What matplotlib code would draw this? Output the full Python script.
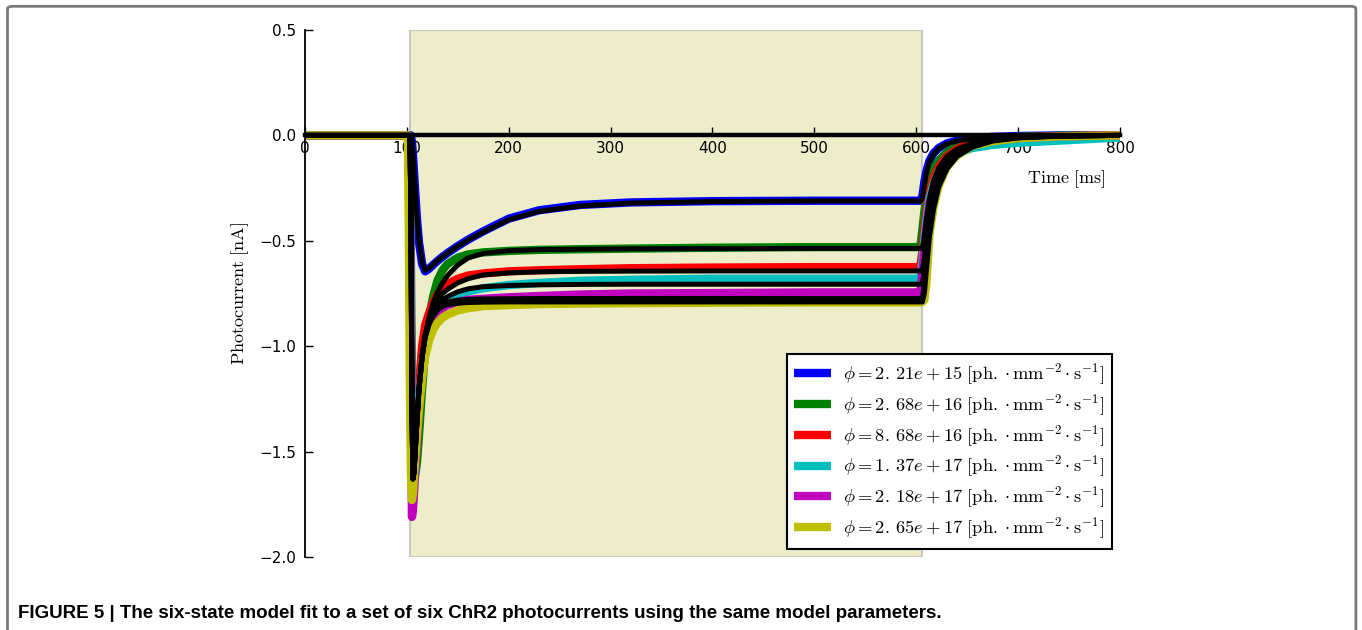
import matplotlib
matplotlib.use("Agg")
import matplotlib.pyplot as plt
from matplotlib.patches import FancyBboxPatch

plt.rcParams["mathtext.fontset"] = "cm"

# Sample times [ms] shared by every trace
t_ms = [0, 101, 102, 103, 104, 105, 106, 107, 108, 110, 112, 115, 118, 122, 126,
        130, 135, 140, 150, 160, 175, 200, 230, 270, 320, 400, 500,
        604, 606, 608, 610, 613, 617, 622, 630, 640, 655, 675, 700, 740, 800]

# Recorded photocurrents [nA]
rec_221e15 = [0, 0, 0, 0, 0, -0.03, -0.09, -0.17, -0.25, -0.40, -0.51, -0.61, -0.645, -0.632, -0.613,
              -0.596, -0.576, -0.558, -0.525, -0.495, -0.455, -0.395, -0.355, -0.330, -0.318, -0.312, -0.310,
              -0.310, -0.290, -0.220, -0.170, -0.120, -0.085, -0.060, -0.038, -0.025, -0.014, -0.007, -0.003, 0, 0]
rec_268e16 = [0, 0, 0, -0.10, -0.60, -1.20, -1.50, -1.60, -1.62, -1.55, -1.42, -1.20, -1.02, -0.86, -0.76,
              -0.69, -0.64, -0.61, -0.58, -0.565, -0.555, -0.548, -0.543, -0.540, -0.537, -0.533, -0.530,
              -0.530, -0.450, -0.360, -0.290, -0.220, -0.160, -0.120, -0.080, -0.050, -0.028, -0.014, -0.007, -0.002, 0]
rec_868e16 = [0, 0, 0, -0.20, -0.90, -1.50, -1.68, -1.65, -1.55, -1.35, -1.18, -1.00, -0.90, -0.84, -0.79,
              -0.755, -0.725, -0.705, -0.680, -0.665, -0.655, -0.645, -0.640, -0.635, -0.630, -0.627, -0.625,
              -0.625, -0.550, -0.440, -0.360, -0.270, -0.200, -0.150, -0.100, -0.065, -0.035, -0.018, -0.010, -0.004, 0]
rec_137e17 = [0, 0, 0, -0.20, -0.90, -1.50, -1.70, -1.68, -1.60, -1.42, -1.27, -1.10, -1.00, -0.93, -0.87,
              -0.83, -0.80, -0.78, -0.755, -0.740, -0.725, -0.710, -0.700, -0.690, -0.685, -0.680, -0.680,
              -0.680, -0.600, -0.490, -0.400, -0.300, -0.230, -0.170, -0.120, -0.085, -0.060, -0.045, -0.035, -0.025, -0.010]
rec_218e17 = [0, 0, 0, -0.30, -1.20, -1.81, -1.78, -1.70, -1.60, -1.45, -1.30, -1.12, -1.00, -0.92, -0.87,
              -0.845, -0.82, -0.805, -0.790, -0.780, -0.775, -0.768, -0.762, -0.755, -0.750, -0.748, -0.745,
              -0.745, -0.660, -0.540, -0.440, -0.330, -0.250, -0.180, -0.120, -0.080, -0.045, -0.025, -0.012, -0.004, 0]
rec_265e17 = [0, 0, -0.50, -1.20, -1.60, -1.73, -1.70, -1.62, -1.55, -1.42, -1.30, -1.15, -1.05, -0.97, -0.92,
              -0.89, -0.865, -0.85, -0.83, -0.82, -0.81, -0.805, -0.800, -0.798, -0.796, -0.794, -0.792,
              -0.792, -0.790, -0.780, -0.700, -0.470, -0.340, -0.240, -0.150, -0.095, -0.050, -0.028, -0.013, -0.005, 0]

# Six-state model fits [nA]
fit_221e15 = [0, 0, 0, 0, 0, -0.02, -0.08, -0.16, -0.24, -0.39, -0.50, -0.60, -0.64, -0.630, -0.612,
              -0.595, -0.576, -0.558, -0.526, -0.497, -0.458, -0.400, -0.360, -0.335, -0.321, -0.314, -0.311,
              -0.311, -0.300, -0.235, -0.180, -0.125, -0.088, -0.062, -0.040, -0.026, -0.015, -0.008, -0.003, -0.001, 0]
fit_268e16 = [0, 0, 0, 0, -0.35, -1.30, -1.63, -1.60, -1.52, -1.35, -1.20, -1.05, -0.95, -0.86, -0.79,
              -0.745, -0.700, -0.665, -0.615, -0.582, -0.560, -0.547, -0.542, -0.540, -0.538, -0.537, -0.536,
              -0.536, -0.536, -0.480, -0.400, -0.300, -0.215, -0.155, -0.100, -0.065, -0.036, -0.018, -0.008, -0.002, 0]
fit_868e16 = [0, 0, 0, 0, -0.35, -1.30, -1.63, -1.60, -1.52, -1.35, -1.20, -1.05, -0.95, -0.87, -0.815,
              -0.780, -0.750, -0.730, -0.700, -0.680, -0.662, -0.652, -0.647, -0.645, -0.644, -0.643, -0.643,
              -0.643, -0.643, -0.580, -0.480, -0.360, -0.260, -0.185, -0.120, -0.078, -0.043, -0.021, -0.009, -0.003, 0]
fit_137e17 = [0, 0, 0, 0, -0.35, -1.30, -1.63, -1.60, -1.52, -1.35, -1.20, -1.05, -0.95, -0.88, -0.835,
              -0.805, -0.780, -0.765, -0.742, -0.728, -0.718, -0.712, -0.709, -0.707, -0.706, -0.706, -0.706,
              -0.706, -0.706, -0.640, -0.530, -0.400, -0.290, -0.205, -0.133, -0.086, -0.047, -0.023, -0.010, -0.003, 0]
fit_218e17 = [0, 0, 0, 0, -0.35, -1.30, -1.63, -1.60, -1.52, -1.35, -1.20, -1.05, -0.95, -0.885, -0.845,
              -0.820, -0.800, -0.790, -0.782, -0.778, -0.776, -0.775, -0.774, -0.774, -0.774, -0.774, -0.774,
              -0.774, -0.774, -0.700, -0.580, -0.440, -0.320, -0.225, -0.146, -0.094, -0.052, -0.025, -0.011, -0.003, 0]
fit_265e17 = [0, 0, 0, 0, -0.35, -1.30, -1.63, -1.60, -1.52, -1.35, -1.20, -1.05, -0.96, -0.895, -0.855,
              -0.830, -0.812, -0.803, -0.796, -0.793, -0.791, -0.790, -0.790, -0.790, -0.790, -0.790, -0.790,
              -0.790, -0.790, -0.750, -0.640, -0.480, -0.350, -0.245, -0.160, -0.100, -0.056, -0.027, -0.012, -0.004, 0]

flux_mantissa = ["2.21", "2.68", "8.68", "1.37", "2.18", "2.65"]
flux_exponent = ["15", "16", "16", "17", "17", "17"]
trace_colors = ["b", "g", "r", "c", "m", "y"]
recordings = [rec_221e15, rec_268e16, rec_868e16, rec_137e17, rec_218e17, rec_265e17]
fits = [fit_221e15, fit_268e16, fit_868e16, fit_137e17, fit_218e17, fit_265e17]

light_on, light_off = 103.5, 605.5

fig = plt.figure(figsize=(13.62, 6.30), dpi=100)

# Page frame around the figure panel
frame = FancyBboxPatch((0.0055, -0.05), 0.9900, 1.04, boxstyle="round,pad=0,rounding_size=0.004",
                       transform=fig.transFigure, fill=False, edgecolor="#7a7a7a",
                       linewidth=2.0, zorder=0)
fig.patches.append(frame)

ax = fig.add_axes([0.2239, 0.1159, 0.5984, 0.8365])

ax.axvspan(light_on, light_off, facecolor="#EDEDCA", edgecolor="#C8C8C0",
           linewidth=1.5, zorder=0)

for vals, col, mant, expo in zip(recordings, trace_colors, flux_mantissa, flux_exponent):
    a, b = mant.split(".")
    label = (r"$\phi = %s.\,%se + %s\ [\mathrm{ph.}\cdot\mathrm{mm}^{-2}\cdot\mathrm{s}^{-1}]$"
             % (a, b, expo))
    ax.plot(t_ms, vals, color=col, linewidth=6, solid_capstyle="round", label=label)
for vals in fits:
    ax.plot(t_ms, vals, color="k", linewidth=3.6, solid_capstyle="round")

ax.set_xlim(0, 800)
ax.set_ylim(-2.0, 0.5)
ax.set_xticks(range(0, 801, 100))
ax.set_yticks([-2.0, -1.5, -1.0, -0.5, 0.0, 0.5])

ax.spines["top"].set_visible(False)
ax.spines["right"].set_visible(False)
ax.spines["bottom"].set_position(("data", 0))
ax.spines["bottom"].set_linewidth(3.2)
ax.spines["bottom"].set_zorder(3)
ax.spines["left"].set_linewidth(1.3)
ax.tick_params(axis="both", direction="in", labelsize=11, length=6, width=1)
ax.tick_params(axis="x", pad=4)
ax.tick_params(axis="y", pad=6)

ax.set_ylabel(r"$\mathrm{Photocurrent\ [nA]}$", fontsize=13)
ax.yaxis.set_label_coords(-0.066, 0.5)
ax.set_xlabel(r"$\mathrm{Time\ [ms]}$", fontsize=13)
ax.xaxis.set_label_coords(0.934, 0.738)

leg = ax.legend(loc="lower right", fontsize=13.3, handlelength=2.0, handletextpad=0.65,
                labelspacing=0.3, borderaxespad=0.45, fancybox=False, framealpha=1,
                edgecolor="k", borderpad=0.4)
leg.get_frame().set_linewidth(1.5)
for h in leg.get_lines():
    h.set_linewidth(6)
    h.set_solid_capstyle("butt")

fig.text(0.0132, 0.019,
         "FIGURE 5 | The six-state model fit to a set of six ChR2 photocurrents using the same model parameters.",
         fontsize=13.5, fontweight="bold", family=["Liberation Sans", "DejaVu Sans"],
         ha="left", va="baseline")

fig.savefig("out.png", dpi=100)
